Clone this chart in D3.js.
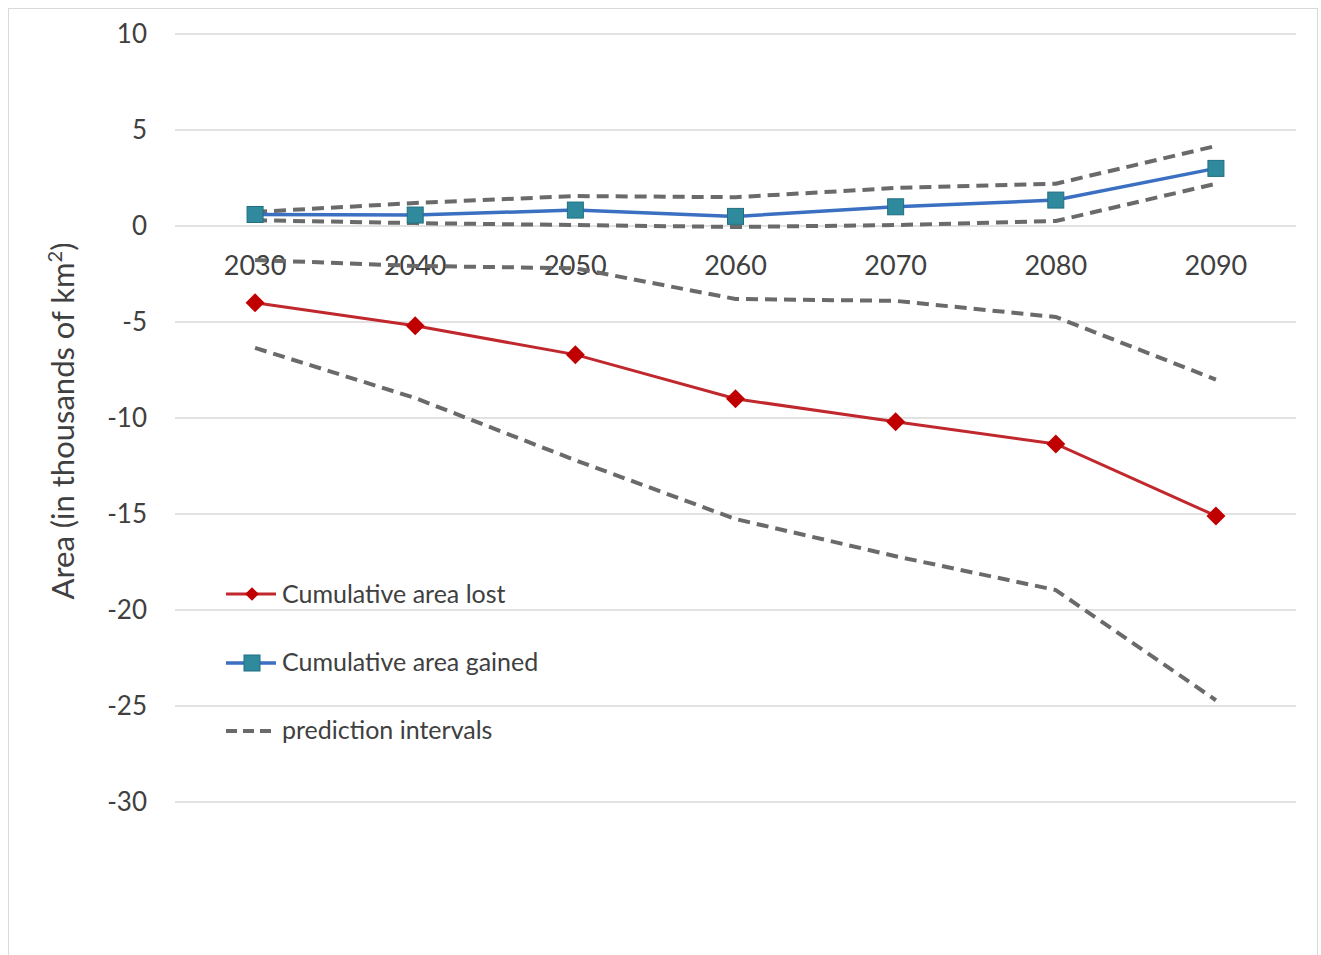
<!DOCTYPE html>
<html>
<head>
<meta charset="utf-8">
<script src="https://cdn.jsdelivr.net/npm/d3@7"></script>
<style>
  body { margin: 0; background: #fff; }
  svg { font-family: Lato, "Open Sans", sans-serif; }
</style>
</head>
<body>
<svg id="chart" width="1321" height="955"></svg>
<script>
// chart data
const years = ['2030', '2040', '2050', '2060', '2070', '2080', '2090'];
const areaLost = [-4.0, -5.2, -6.7, -9.0, -10.2, -11.35, -15.1];
const areaGained = [0.6, 0.57, 0.83, 0.5, 1.0, 1.35, 3.0];
const lostUpper = [-1.77, -2.08, -2.2, -3.8, -3.9, -4.74, -8.0];
const lostLower = [-6.35, -8.96, -12.2, -15.26, -17.2, -18.96, -24.7];
const gainedUpper = [0.73, 1.2, 1.56, 1.5, 1.98, 2.2, 4.17];
const gainedLower = [0.3, 0.15, 0.05, -0.05, 0.05, 0.26, 2.2];
const yTicks = [10, 5, 0, -5, -10, -15, -20, -25, -30];

const svg = d3.select('#chart');

// outer frame
svg.append('rect')
  .attr('x', 8.5).attr('y', 8.5)
  .attr('width', 1309).attr('height', 960)
  .attr('fill', 'none')
  .attr('stroke', '#d9d9d9');

const x = d3.scaleBand().domain(years).range([175, 1296]);
const y = d3.scaleLinear().domain([-30, 10]).range([802, 34]);

// gridlines
svg.append('g')
  .selectAll('line')
  .data(yTicks)
  .enter()
  .append('line')
  .attr('x1', 175).attr('x2', 1296)
  .attr('y1', d => y(d)).attr('y2', d => y(d))
  .attr('stroke', '#d9d9d9')
  .attr('stroke-width', 1.3);

// y tick labels
svg.append('g')
  .selectAll('text')
  .data(yTicks)
  .enter()
  .append('text')
  .attr('x', 147)
  .attr('y', d => y(d))
  .attr('dy', '0.35em')
  .attr('text-anchor', 'end')
  .attr('font-size', 26)
  .attr('fill', '#404040')
  .text(d => d);

// x tick labels sit just under the zero line
svg.append('g')
  .selectAll('text')
  .data(years)
  .enter()
  .append('text')
  .attr('x', d => x(d) + x.bandwidth() / 2)
  .attr('y', y(0) + 40)
  .attr('dy', '0.35em')
  .attr('text-anchor', 'middle')
  .attr('font-size', 27)
  .attr('fill', '#404040')
  .text(d => d);

// y axis title
svg.append('text')
  .attr('transform', 'translate(74, 421) rotate(-90)')
  .attr('text-anchor', 'middle')
  .attr('font-size', 31)
  .attr('fill', '#404040')
  .html('Area (in thousands of km<tspan baseline-shift="super" font-size="20">2</tspan>)');

const cx = i => x(years[i]) + x.bandwidth() / 2;
const line = d3.line().x((d, i) => cx(i)).y(d => y(d));

// prediction intervals
[lostUpper, lostLower, gainedUpper, gainedLower].forEach(s => {
  svg.append('path')
    .attr('d', line(s))
    .attr('fill', 'none')
    .attr('stroke', '#6a6a6a')
    .attr('stroke-width', 4)
    .attr('stroke-dasharray', '12,7');
});

// lost series
svg.append('path')
  .attr('d', line(areaLost))
  .attr('fill', 'none')
  .attr('stroke', '#c0282d')
  .attr('stroke-width', 3);

svg.append('g')
  .selectAll('path')
  .data(areaLost)
  .enter()
  .append('path')
  .attr('d', d3.symbol().type(d3.symbolDiamond2).size(230))
  .attr('transform', (d, i) => `translate(${cx(i)},${y(d)})`)
  .attr('fill', '#c00000');

// gained series
svg.append('path')
  .attr('d', line(areaGained))
  .attr('fill', 'none')
  .attr('stroke', '#3b6fc2')
  .attr('stroke-width', 3.5);

svg.append('g')
  .selectAll('rect')
  .data(areaGained)
  .enter()
  .append('rect')
  .attr('x', (d, i) => cx(i) - 8)
  .attr('y', d => y(d) - 8)
  .attr('width', 16).attr('height', 16)
  .attr('fill', '#2f8a9e')
  .attr('stroke', '#1f6f80')
  .attr('stroke-width', 1);

// legend
const legend = svg.append('g').attr('transform', 'translate(226, 0)');

legend.append('line')
  .attr('x1', 0).attr('x2', 50).attr('y1', 594).attr('y2', 594)
  .attr('stroke', '#c0282d').attr('stroke-width', 3);
legend.append('path')
  .attr('d', d3.symbol().type(d3.symbolDiamond2).size(120))
  .attr('transform', 'translate(26,594)')
  .attr('fill', '#c00000');

legend.append('line')
  .attr('x1', 0).attr('x2', 50).attr('y1', 663).attr('y2', 663)
  .attr('stroke', '#3b6fc2').attr('stroke-width', 3.5);
legend.append('rect')
  .attr('x', 18).attr('y', 655).attr('width', 16).attr('height', 16)
  .attr('fill', '#2f8a9e').attr('stroke', '#1f6f80');

legend.append('line')
  .attr('x1', 0).attr('x2', 47).attr('y1', 731).attr('y2', 731)
  .attr('stroke', '#6a6a6a').attr('stroke-width', 4)
  .attr('stroke-dasharray', '11,6');

const legendLabels = ['Cumulative area lost', 'Cumulative area gained', 'prediction intervals'];
legend.selectAll('text.lbl')
  .data(legendLabels)
  .enter()
  .append('text')
  .attr('class', 'lbl')
  .attr('x', 56)
  .attr('y', (d, i) => 594 + i * 68)
  .attr('dy', '0.35em')
  .attr('font-size', 25)
  .attr('fill', '#404040')
  .text(d => d);
</script>
</body>
</html>
